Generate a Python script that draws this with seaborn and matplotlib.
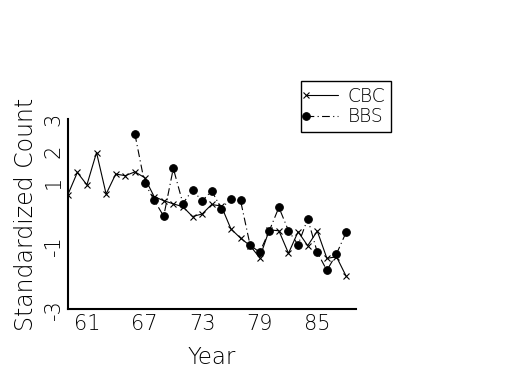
import numpy as np
import pandas as pd
import matplotlib
matplotlib.use('Agg')
import matplotlib.pyplot as plt
import seaborn as sns
from matplotlib.lines import Line2D
from matplotlib.legend_handler import HandlerLine2D

# valores
cbc_anos = list(range(59, 89))
cbc_vals = [0.61, 1.32, 0.93, 1.95, 0.64, 1.27, 1.22, 1.34, 1.16, 0.56,
            0.43, 0.33, 0.24, -0.07, 0.01, 0.31, 0.26, -0.46, -0.75, -0.99,
            -1.37, -0.49, -0.52, -1.23, -0.55, -0.99, -0.53, -1.39, -1.34, -1.95]

bbs_anos = list(range(66, 89))
bbs_vals = [2.53, 1.00, 0.45, -0.06, 1.45, 0.34, 0.77, 0.42, 0.74, 0.18,
            0.49, 0.44, -0.97, -1.20, -0.52, 0.22, -0.52, -0.96, -0.14, -1.20,
            -1.77, -1.25, -0.57]

ytick_vals = [3, 2, 1, 0, -1, -2, -3]
ytick_txt = ['3', '2', '1', '', '-1', '', '-3']
xtick_vals = list(range(59, 90, 2))
xtick_txt = ['61', '67', '73', '79', '85']

df_cbc = pd.DataFrame({'Year': cbc_anos, 'Count': cbc_vals})
df_bbs = pd.DataFrame({'Year': bbs_anos, 'Count': bbs_vals})

sns.set_style('white')
plt.rcParams['font.family'] = ['DejaVu Sans']
plt.rcParams['font.weight'] = 'light'
plt.rcParams['text.color'] = 'black'
plt.rcParams['axes.labelcolor'] = 'black'
plt.rcParams['axes.labelweight'] = 'light'
plt.rcParams['xtick.color'] = 'black'
plt.rcParams['ytick.color'] = 'black'


class MarcadorEsquerda(HandlerLine2D):
    # marcador na ponta esquerda da linha da legenda
    def create_artists(self, *args, **kwargs):
        artistas = super().create_artists(*args, **kwargs)
        for a in artistas:
            a.set_markevery([0])
        return artistas


fig = plt.figure(figsize=(5.25, 3.75), dpi=100)
ax = fig.add_axes([0.129, 0.175, 0.5485, 0.507])

sns.lineplot(data=df_cbc, x='Year', y='Count', ax=ax, color='black',
             marker='x', markersize=4, markeredgewidth=0.8,
             markeredgecolor='black', linewidth=0.8, label='CBC')
sns.lineplot(data=df_bbs, x='Year', y='Count', ax=ax, color='black',
             marker='o', markersize=5.5, markeredgecolor='black',
             linewidth=0.8, linestyle=(0, (7, 3, 1, 3)), label='BBS')

ax.set_xlim(59, 89)
ax.set_ylim(-3, 3)
ax.set_xticks(xtick_vals)
ax.set_xticklabels([str(v) if str(v) in xtick_txt else '' for v in xtick_vals], fontsize=15)
ax.set_yticks(ytick_vals)
ax.set_yticklabels(ytick_txt, fontsize=15, rotation=90, va='center')
ax.tick_params(direction='in', length=4, width=1, color='black', pad=3)

for lado in ['top', 'right']:
    ax.spines[lado].set_visible(False)
for lado in ['left', 'bottom']:
    ax.spines[lado].set_color('black')
    ax.spines[lado].set_linewidth(1.5)

ax.set_xlabel('Year', fontsize=16.5, labelpad=9)
ax.set_ylabel('Standardized Count', fontsize=17, labelpad=4)

leg = ax.legend(loc='upper left', bbox_to_anchor=(0.573, 0.784),
                bbox_transform=fig.transFigure, borderaxespad=0, fontsize=13.5,
                fancybox=False, framealpha=1, edgecolor='black',
                handlelength=1.7, handletextpad=0.5, borderpad=0.3,
                labelspacing=0.1, handler_map={Line2D: MarcadorEsquerda()})
leg.get_frame().set_linewidth(1)

fig.savefig('out.png', dpi=100)
